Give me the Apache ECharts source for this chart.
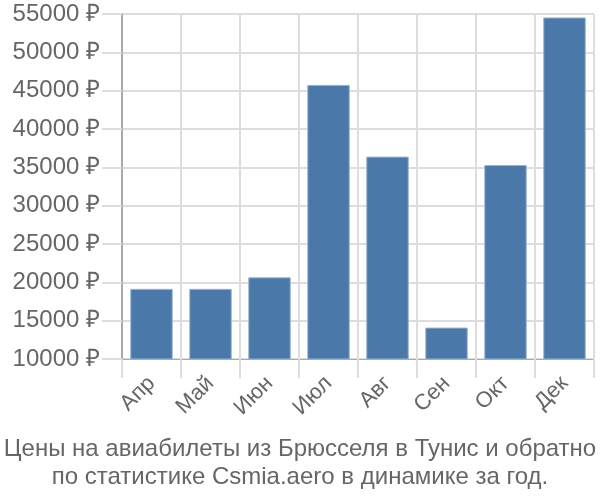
<!DOCTYPE html>
<html><head><meta charset="utf-8">
<script src="https://cdn.jsdelivr.net/npm/echarts@6/dist/echarts.min.js"></script>
<style>html,body{margin:0;padding:0;background:#fff}#c{width:600px;height:500px}</style>
</head><body><div id="c"></div>
<script>
const categories = ['Апр','Май','Июн','Июл','Авг','Сен','Окт','Дек'];
const prices = [19150, 19150, 20650, 45750, 36400, 14100, 35300, 54550];
const yMin = 10000, yMax = 55000, yStep = 5000;
const titleLines = ['Цены на авиабилеты из Брюсселя в Тунис и обратно', 'по статистике Csmia.aero в динамике за год.'];

const chart = echarts.init(document.getElementById('c'), null, {renderer:'canvas'});
const font = 'Liberation Sans, Arial, sans-serif';
chart.setOption({
  animation: false,
  title: {
    text: titleLines.join('\n'),
    left: 'center', top: 430,
    textStyle: {fontFamily: font, fontSize: 24, fontWeight: 'normal', color: '#666', lineHeight: 28}
  },
  grid: {left: 122, right: 6, top: 14, bottom: 141},
  xAxis: {
    type: 'category', data: categories,
    axisLine: {show: true, lineStyle: {color: '#aaa', width: 1}},
    axisTick: {show: true, length: 19, alignWithLabel: false, lineStyle: {color: '#ddd', width: 2}},
    splitLine: {show: true, lineStyle: {color: '#ddd', width: 2}},
    axisLabel: {rotate: 45, margin: 21, fontFamily: font, fontSize: 22, color: '#666'}
  },
  yAxis: {
    type: 'value', min: yMin, max: yMax, interval: yStep,
    axisLine: {show: true, lineStyle: {color: '#aaa', width: 2}},
    axisTick: {show: true, length: 20, lineStyle: {color: '#ddd', width: 2}},
    splitLine: {show: true, lineStyle: {color: '#ddd', width: 2}},
    axisLabel: {margin: 22, fontFamily: font, fontSize: 24, color: '#666', formatter: v => v + ' ₽'}
  },
  series: [{
    type: 'bar', data: prices, barWidth: '72%',
    itemStyle: {color: '#4a78a8', borderColor: '#9bb3d0', borderWidth: 1}
  }]
});
</script></body></html>
